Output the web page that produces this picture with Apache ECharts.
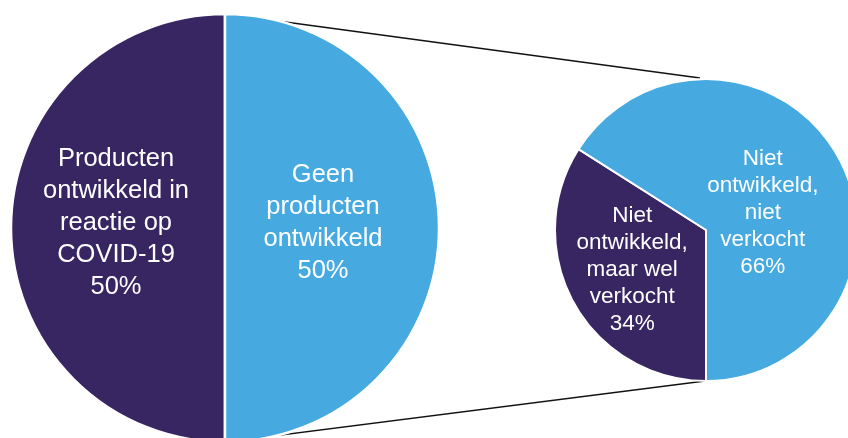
<!DOCTYPE html>
<html>
<head>
<meta charset="utf-8">
<script src="https://cdn.jsdelivr.net/npm/echarts@6/dist/echarts.min.js"></script>
<style>
  html, body { margin: 0; padding: 0; background: #ffffff; }
  #chart { width: 848px; height: 438px; }
</style>
</head>
<body>
<div id="chart"></div>
<script>
// Main split: products developed in response to COVID-19
const mainNames = ['Producten\nontwikkeld in\nreactie op\nCOVID-19', 'Geen\nproducten\nontwikkeld'];
const mainValues = [50, 50];

// Breakdown of the "no products developed" group
const subNames = ['Niet\nontwikkeld,\nmaar wel\nverkocht', 'Niet\nontwikkeld,\nniet\nverkocht'];
const subValues = [34, 66];

const DARK = '#372662';
const LIGHT = '#46aae0';
const FONT = '"Liberation Sans", Arial, Helvetica, sans-serif';

// Pie geometry (pixels)
const big = { cx: 225, cy: 228, r: 214 };
const small = { cx: 706, cy: 230, r: 151 };

const chart = echarts.init(document.getElementById('chart'), null, { renderer: 'canvas' });

function labelFmt(p) { return p.name + '\n' + p.value + '%'; }

chart.setOption({
  animation: false,
  backgroundColor: '#ffffff',
  graphic: [
    // connector lines from the main pie to the breakdown pie
    {
      type: 'line', z: 0,
      shape: { x1: big.cx + 1, y1: big.cy - big.r, x2: small.cx - 6, y2: small.cy - small.r - 1 },
      style: { stroke: '#111111', lineWidth: 1.4 }
    },
    {
      type: 'line', z: 0,
      shape: { x1: big.cx + 1, y1: big.cy + big.r, x2: small.cx - 1, y2: small.cy + small.r },
      style: { stroke: '#111111', lineWidth: 1.4 }
    }
  ],
  series: [
    {
      type: 'pie',
      center: [big.cx, big.cy],
      radius: big.r,
      startAngle: -90,
      clockwise: true,
      silent: true,
      z: 2,
      itemStyle: { borderColor: '#ffffff', borderWidth: 2.5 },
      labelLine: { show: false },
      label: {
        show: true,
        position: 'inside',
        color: '#ffffff',
        fontFamily: FONT,
        fontSize: 25.5,
        lineHeight: 32,
        formatter: labelFmt
      },
      data: [
        { name: mainNames[0], value: mainValues[0], itemStyle: { color: DARK }, label: { offset: [1, -5] } },
        { name: mainNames[1], value: mainValues[1], itemStyle: { color: LIGHT }, label: { offset: [-12, -5] } }
      ]
    },
    {
      type: 'pie',
      center: [small.cx, small.cy],
      radius: small.r,
      startAngle: -90,
      clockwise: true,
      silent: true,
      z: 2,
      itemStyle: { borderColor: '#ffffff', borderWidth: 2 },
      labelLine: { show: false },
      label: {
        show: true,
        position: 'inside',
        color: '#ffffff',
        fontFamily: FONT,
        fontSize: 22.5,
        lineHeight: 27,
        formatter: labelFmt
      },
      data: [
        { name: subNames[0], value: subValues[0], itemStyle: { color: DARK }, label: { offset: [-5, 2] } },
        { name: subNames[1], value: subValues[1], itemStyle: { color: LIGHT }, label: { offset: [-12, 21] } }
      ]
    }
  ]
});
</script>
</body>
</html>
